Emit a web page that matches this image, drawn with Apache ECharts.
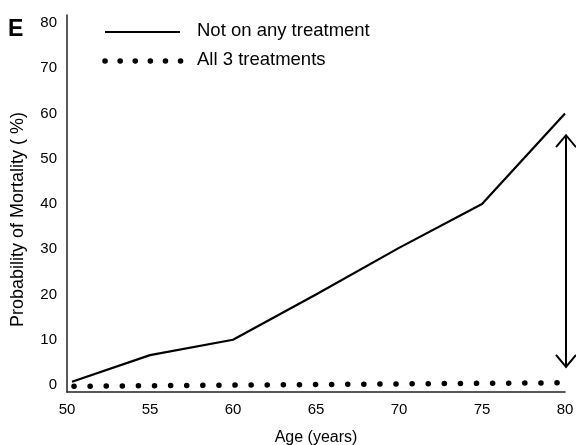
<!DOCTYPE html>
<html>
<head>
<meta charset="utf-8">
<script src="https://cdn.jsdelivr.net/npm/echarts@6/dist/echarts.min.js"></script>
<style>html,body{margin:0;padding:0;background:#fff;}#c{width:576px;height:445px;}</style>
</head>
<body>
<div id="c"></div>
<script>
// Data
var ages = [50.3, 55, 60, 65, 70, 75, 80];
var noTreatment = [0.7, 6.6, 10, 20, 30.3, 40, 60];
var allAges = [50, 80];
var allThree = [-0.3, 0.5];
var yTicks = [0, 10, 20, 30, 40, 50, 60, 70, 80];
var seriesNames = ['Not on any treatment', 'All 3 treatments'];
var arrowRange = [55.2, 4.0]; // annotation arrow at age 80 (top, bottom)

var font = 'Liberation Sans, Arial, Helvetica, sans-serif';
var chart = echarts.init(document.getElementById('c'), null, {renderer: 'canvas'});

function pairs(xs, ys) { return xs.map(function (x, i) { return [x, ys[i]]; }); }

var dotStyle = {color: '#000', width: 5.5, type: [0.1, 16], cap: 'round', dashOffset: -7};

var option = {
  animation: false,
  backgroundColor: '#fff',
  grid: {left: 67, right: 11, top: 15, bottom: 53, outerBoundsMode: 'none', containLabel: false},
  xAxis: {
    type: 'value', min: 50, max: 80, interval: 5,
    name: 'Age (years)', nameLocation: 'middle', nameGap: 38,
    nameTextStyle: {fontFamily: font, fontSize: 16, color: '#000'},
    axisLine: {show: true, onZero: false, lineStyle: {color: '#222', width: 1.5}},
    axisTick: {show: false},
    splitLine: {show: false},
    axisLabel: {fontFamily: font, fontSize: 15, color: '#000', margin: 10}
  },
  yAxis: {
    type: 'value', min: -1.55, max: 81.77,
    name: 'Probability of Mortality ( %)', nameLocation: 'middle', nameGap: 40,
    nameTextStyle: {fontFamily: font, fontSize: 18, color: '#000', padding: [0, 32, 0, 0]},
    axisLine: {show: true, onZero: false, lineStyle: {color: '#222', width: 1.5}},
    axisTick: {show: false},
    splitLine: {show: false},
    axisLabel: {fontFamily: font, fontSize: 15, color: '#000', margin: 10, customValues: yTicks}
  },
  series: [
    {
      name: seriesNames[0], type: 'line', showSymbol: false, symbol: 'none',
      data: pairs(ages, noTreatment),
      lineStyle: {color: '#000', width: 2.2},
      itemStyle: {color: '#000'}
    },
    {
      name: seriesNames[1], type: 'line', showSymbol: false, symbol: 'none',
      data: pairs(allAges, allThree),
      lineStyle: dotStyle,
      itemStyle: {color: '#000'}
    }
  ]
};
chart.setOption(option);

var pTop = chart.convertToPixel({gridIndex: 0}, [80, arrowRange[0]]);
var pBot = chart.convertToPixel({gridIndex: 0}, [80, arrowRange[1]]);
var ax = pTop[0] + 1, aw = 10, ah = 12;
var st = {stroke: '#000', lineWidth: 2, fill: null};
chart.setOption({
  graphic: [
    {type: 'text', left: 8, top: 18, style: {text: 'E', fontFamily: font, fontWeight: 900, fontSize: 23, fill: '#000'}},
    // legend
    {type: 'line', shape: {x1: 105, y1: 32, x2: 180, y2: 32}, style: {stroke: '#000', lineWidth: 2.2}},
    {type: 'text', x: 197, y: 31, style: {text: seriesNames[0], fontFamily: font, fontSize: 18.5, fill: '#000', verticalAlign: 'middle'}},
    {type: 'line', shape: {x1: 105, y1: 61, x2: 181, y2: 61}, style: {stroke: '#000', lineWidth: 5.5, lineDash: [0.1, 15], lineCap: 'round'}},
    {type: 'text', x: 197, y: 60, style: {text: seriesNames[1], fontFamily: font, fontSize: 18.5, fill: '#000', verticalAlign: 'middle'}},
    // annotation arrow
    {type: 'line', shape: {x1: ax, y1: pTop[1], x2: ax, y2: pBot[1]}, style: st},
    {type: 'polyline', shape: {points: [[ax - aw, pTop[1] + ah], [ax, pTop[1]], [ax + aw, pTop[1] + ah]]}, style: st},
    {type: 'polyline', shape: {points: [[ax - aw, pBot[1] - ah], [ax, pBot[1]], [ax + aw, pBot[1] - ah]]}, style: st}
  ]
});
</script>
</body>
</html>
